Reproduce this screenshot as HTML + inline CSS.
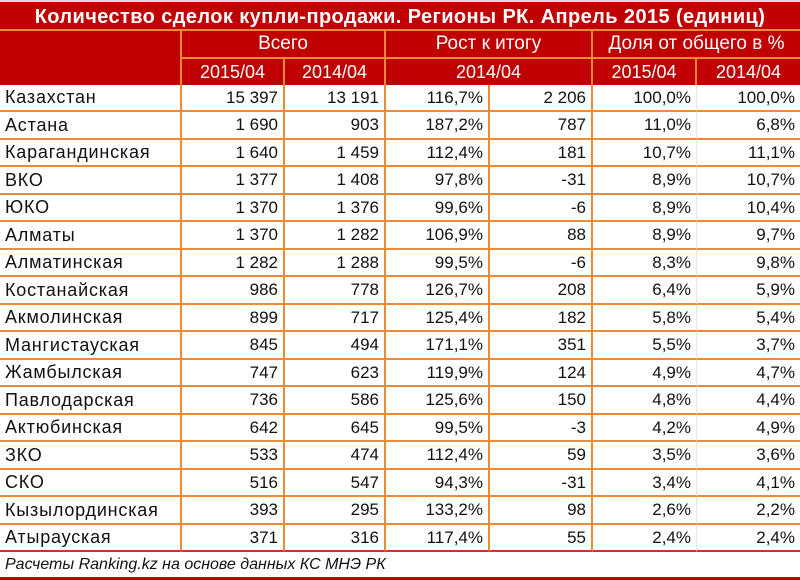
<!DOCTYPE html>
<html><head><meta charset="utf-8"><style>
body{margin:0;width:800px;height:580px;background:#fff;overflow:hidden;font-family:"Liberation Sans","DejaVu Sans",sans-serif;}
.c{position:absolute;box-sizing:border-box;font-size:17px;line-height:27px;white-space:nowrap;}
.h{background:#c00000;color:#fff;text-align:center;font-size:18px;}
</style></head><body>
<div id="root"></div>
<script>
var X=[0,182,285,386,490,593,697,800];
var out='';
function cell(x,y,w,h,txt,cls,st){out+='<div class="c '+cls+'" style="left:'+x+'px;top:'+y+'px;width:'+w+'px;height:'+h+'px;'+(st||'')+'">'+txt+'</div>';}
cell(0,0,800,29,'Количество сделок купли-продажи. Регионы РК. Апрель 2015 (единиц)','h','font-weight:bold;font-size:20px;letter-spacing:0.4px;line-height:30px;border-top:2px solid #ddd;');
cell(0,29,800,56,'','h','');
var O='#ec8a35';
cell(0,29,X[1],56,'','h','border-top:2px solid '+O+';border-right:2px solid '+O+';');
cell(X[1],29,X[3]-X[1],28,'Всего','h','border-top:2px solid '+O+';border-right:2px solid '+O+';line-height:26px;font-size:19px');
cell(X[3],29,X[5]-X[3],28,'Рост к итогу','h','border-top:2px solid '+O+';border-right:2px solid '+O+';line-height:26px;font-size:19px');
cell(X[5],29,X[7]-X[5],28,'Доля от общего в %','h','border-top:2px solid '+O+';line-height:26px;font-size:19px');
cell(X[1],57,X[2]-X[1],28,'2015/04','h','border-top:2px solid '+O+';border-right:2px solid '+O+';line-height:26px');
cell(X[2],57,X[3]-X[2],28,'2014/04','h','border-top:2px solid '+O+';border-right:2px solid '+O+';line-height:26px');
cell(X[3],57,X[5]-X[3],28,'2014/04','h','border-top:2px solid '+O+';border-right:2px solid '+O+';line-height:26px');
cell(X[5],57,X[6]-X[5],28,'2015/04','h','border-top:2px solid '+O+';border-right:2px solid '+O+';line-height:26px');
cell(X[6],57,X[7]-X[6],28,'2014/04','h','border-top:2px solid '+O+';line-height:26px');
var D=[
['Казахстан','15 397','13 191','116,7%','2 206','100,0%','100,0%'],
['Астана','1 690','903','187,2%','787','11,0%','6,8%'],
['Карагандинская','1 640','1 459','112,4%','181','10,7%','11,1%'],
['ВКО','1 377','1 408','97,8%','-31','8,9%','10,7%'],
['ЮКО','1 370','1 376','99,6%','-6','8,9%','10,4%'],
['Алматы','1 370','1 282','106,9%','88','8,9%','9,7%'],
['Алматинская','1 282','1 288','99,5%','-6','8,3%','9,8%'],
['Костанайская','986','778','126,7%','208','6,4%','5,9%'],
['Акмолинская','899','717','125,4%','182','5,8%','5,4%'],
['Мангистауская','845','494','171,1%','351','5,5%','3,7%'],
['Жамбылская','747','623','119,9%','124','4,9%','4,7%'],
['Павлодарская','736','586','125,6%','150','4,8%','4,4%'],
['Актюбинская','642','645','99,5%','-3','4,2%','4,9%'],
['ЗКО','533','474','112,4%','59','3,5%','3,6%'],
['СКО','516','547','94,3%','-31','3,4%','4,1%'],
['Кызылординская','393','295','133,2%','98','2,6%','2,2%'],
['Атырауская','371','316','117,4%','55','2,4%','2,4%']];
var RH=27.47;
for(var i=0;i<D.length;i++){
 var y=Math.round(85+i*RH),y2=Math.round(85+(i+1)*RH);
 for(var j=0;j<7;j++){
  var br=j<5?'border-right:2px solid '+O+';':(j==5?'border-right:1px solid #e4e4e4;':'');
  cell(X[j],y,X[j+1]-X[j],y2-y,D[i][j],'',br+'border-bottom:2px solid '+(i==D.length-1?'#d03030':O)+';color:#111;line-height:'+(y2-y-2)+'px;'+(j==0?'padding-left:5px;font-size:18px;letter-spacing:0.8px;':'text-align:right;padding-right:5px;'));
 }
}
cell(0,552,800,28,'Расчеты Ranking.kz на основе данных КС МНЭ РК','','font-style:italic;color:#111;padding-left:5px;line-height:26px;font-size:16px;border-bottom:3px solid #c00000;');
document.getElementById('root').innerHTML=out;
</script>
</body></html>
